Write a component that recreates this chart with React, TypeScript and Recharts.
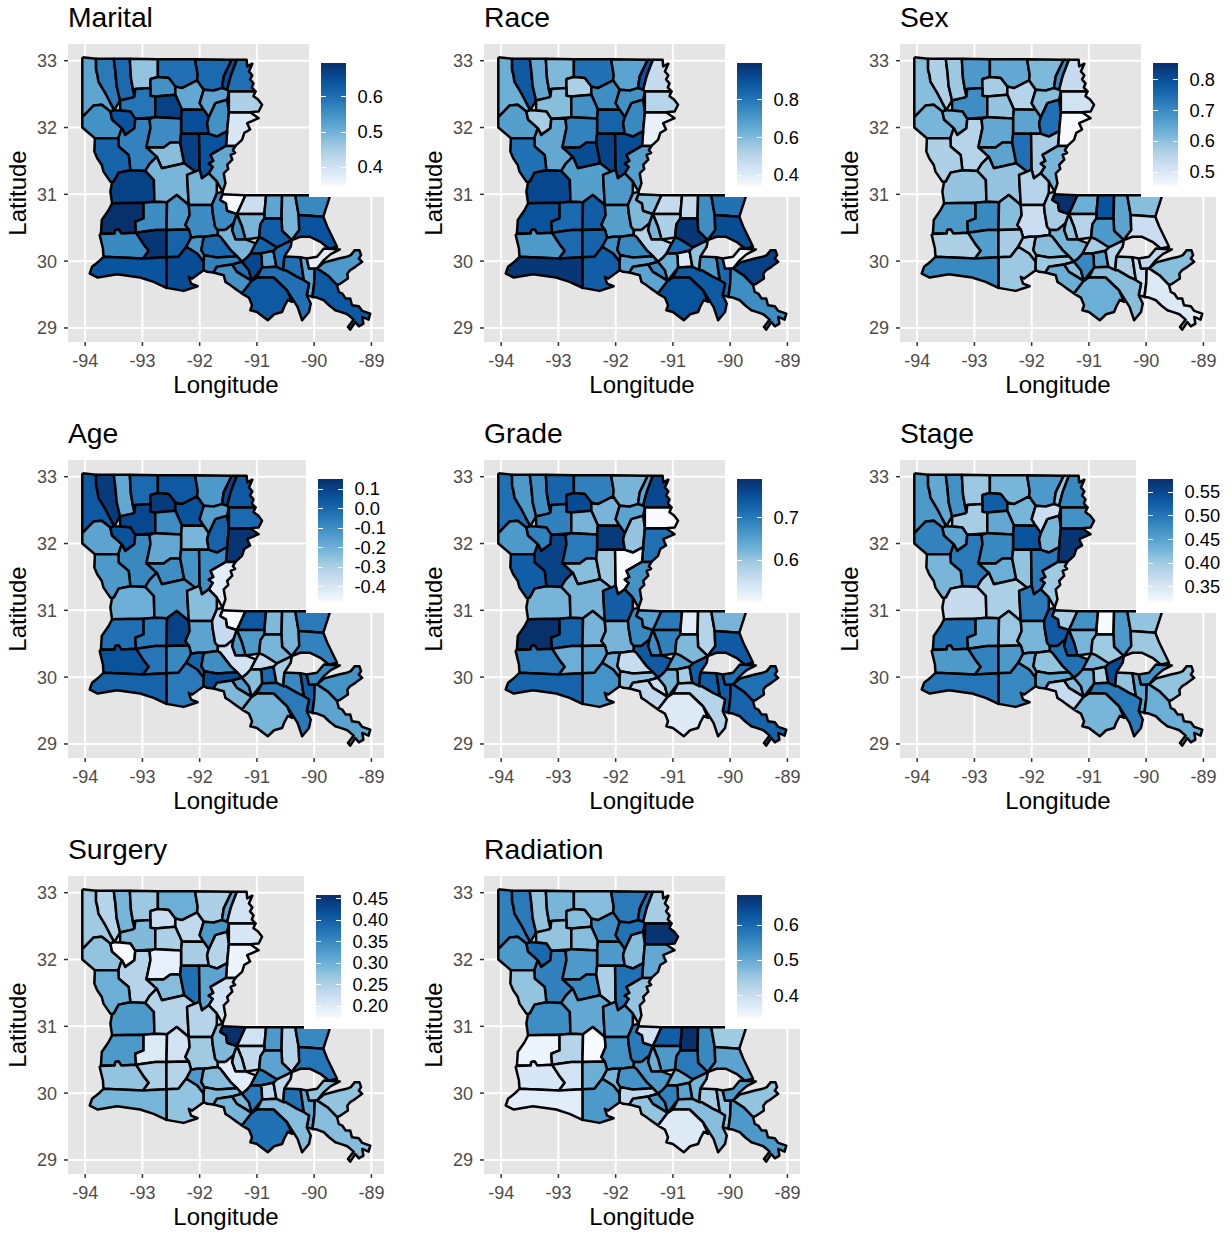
import { CartesianGrid, Scatter, ScatterChart, XAxis, YAxis } from "recharts";

const BLUES = ["#F7FBFF", "#DEEBF7", "#C6DBEF", "#9ECAE1", "#6BAED6", "#4292C6", "#2171B5", "#08519C", "#08306B"];
const GAMMA = 0.87;

const LON_TICKS = [-94, -93, -92, -91, -90, -89];
const LAT_TICKS = [29, 30, 31, 32, 33];

type Ring = number[][];

// parish outlines, lon/lat (St Martin has two pieces)
const parishNames = [
  "Caddo", "Bossier", "Webster", "Claiborne", "Union", "Morehouse", "West Carroll", "East Carroll", "Lincoln", "Ouachita",
  "Richland", "Madison", "Bienville", "Jackson", "Caldwell", "Franklin", "Tensas", "De Soto", "Red River", "Natchitoches",
  "Winn", "Grant", "La Salle", "Catahoula", "Concordia", "Sabine", "Vernon", "Rapides", "Avoyelles", "Beauregard",
  "Allen", "Evangeline", "St Landry", "Pointe Coupee", "West Feliciana", "East Feliciana", "St Helena", "Tangipahoa", "Washington", "St Tammany",
  "East Baton Rouge", "West Baton Rouge", "Livingston", "Iberville", "Ascension", "St James", "St John", "St Charles", "Jefferson", "Orleans",
  "St Bernard", "Plaquemines", "Calcasieu", "Jeff Davis", "Acadia", "Lafayette", "Vermilion", "Cameron", "St Martin", "Iberia",
  "St Martin lower", "St Mary", "Assumption", "Lafourche", "Terrebonne",
];

const parishRings: Ring[] = [
  [[-94.05,33.05],[-93.81,33.03],[-93.81,32.87],[-93.78,32.77],[-93.77,32.69],[-93.65,32.52],[-93.56,32.37],[-93.49,32.26],[-93.56,32.24],[-93.71,32.34],[-93.85,32.33],[-94.05,32.155]],
  [[-93.81,33.03],[-93.5,33.03],[-93.47,32.82],[-93.45,32.62],[-93.39,32.405],[-93.49,32.26],[-93.56,32.37],[-93.65,32.52],[-93.77,32.69],[-93.78,32.77],[-93.81,32.87]],
  [[-93.5,33.03],[-93.22,33.03],[-93.2,32.74],[-93.165,32.565],[-93.14,32.455],[-93.39,32.405],[-93.45,32.62],[-93.47,32.82]],
  [[-93.22,33.03],[-92.73,33.02],[-92.73,32.755],[-92.86,32.725],[-92.86,32.59],[-93.125,32.575],[-93.165,32.565],[-93.2,32.74]],
  [[-92.73,33.02],[-92.08,33.02],[-92.035,32.79],[-92.045,32.705],[-92.31,32.59],[-92.425,32.615],[-92.54,32.74],[-92.73,32.755]],
  [[-92.08,33.02],[-91.44,33.015],[-91.58,32.765],[-91.61,32.59],[-91.755,32.555],[-91.93,32.565],[-92.045,32.705],[-92.035,32.79]],
  [[-91.44,33.015],[-91.35,33.015],[-91.46,32.765],[-91.52,32.565],[-91.61,32.59],[-91.58,32.765]],
  [[-91.35,33.015],[-91.18,33.015],[-91.17,32.915],[-91.08,32.955],[-91.14,32.84],[-91.08,32.78],[-91.12,32.72],[-91.06,32.66],[-91.09,32.6],[-91.025,32.54],[-91.49,32.54],[-91.52,32.565],[-91.46,32.765]],
  [[-92.86,32.725],[-92.73,32.755],[-92.54,32.74],[-92.425,32.615],[-92.425,32.49],[-92.775,32.465],[-92.86,32.475],[-92.86,32.59]],
  [[-92.425,32.615],[-92.31,32.59],[-92.045,32.705],[-91.93,32.565],[-92.0,32.365],[-91.93,32.265],[-92.31,32.27],[-92.425,32.49]],
  [[-91.93,32.565],[-91.755,32.555],[-91.61,32.59],[-91.52,32.565],[-91.49,32.54],[-91.52,32.415],[-91.725,32.365],[-91.84,32.155],[-91.93,32.265],[-92.0,32.365]],
  [[-91.49,32.54],[-91.025,32.54],[-91.06,32.47],[-90.98,32.42],[-90.91,32.34],[-90.97,32.24],[-91.12,32.23],[-91.49,32.225]],
  [[-93.14,32.455],[-93.125,32.575],[-92.86,32.59],[-92.86,32.475],[-92.775,32.465],[-92.775,32.155],[-93.125,32.13],[-93.21,32.24],[-93.39,32.255],[-93.39,32.405]],
  [[-92.775,32.465],[-92.425,32.49],[-92.31,32.27],[-92.325,32.135],[-92.775,32.155]],
  [[-92.31,32.27],[-91.93,32.265],[-91.84,32.155],[-91.87,32.065],[-91.84,31.905],[-92.01,31.905],[-92.325,31.905],[-92.325,32.135]],
  [[-91.725,32.365],[-91.52,32.415],[-91.49,32.225],[-91.52,31.945],[-91.7,31.865],[-91.84,31.905],[-91.87,32.065],[-91.84,32.155]],
  [[-91.49,32.225],[-91.12,32.23],[-90.97,32.14],[-91.17,32.065],[-91.12,31.97],[-91.22,31.92],[-91.26,31.815],[-91.375,31.725],[-91.54,31.725],[-91.52,31.945]],
  [[-94.05,32.155],[-93.85,32.33],[-93.71,32.34],[-93.56,32.24],[-93.53,32.12],[-93.36,31.99],[-93.42,31.84],[-93.83,31.84],[-94.05,32.0]],
  [[-93.49,32.26],[-93.39,32.255],[-93.21,32.24],[-93.125,32.13],[-93.14,31.99],[-93.3,31.89],[-93.36,31.99],[-93.53,32.12],[-93.56,32.24]],
  [[-93.36,31.99],[-93.3,31.89],[-93.14,31.99],[-93.125,32.13],[-92.875,32.13],[-92.86,31.99],[-92.93,31.705],[-92.75,31.565],[-92.875,31.455],[-92.95,31.35],[-93.21,31.36],[-93.24,31.59],[-93.415,31.715],[-93.42,31.84]],
  [[-92.875,32.13],[-92.775,32.155],[-92.325,32.135],[-92.325,31.905],[-92.34,31.775],[-92.51,31.775],[-92.63,31.7],[-92.93,31.705],[-92.86,31.99]],
  [[-92.93,31.705],[-92.63,31.7],[-92.51,31.775],[-92.34,31.775],[-92.27,31.465],[-92.66,31.39],[-92.75,31.565]],
  [[-92.325,31.905],[-92.01,31.905],[-92.0,31.365],[-92.08,31.34],[-92.27,31.465],[-92.34,31.775]],
  [[-92.01,31.905],[-91.84,31.905],[-91.7,31.865],[-91.52,31.945],[-91.54,31.725],[-91.81,31.59],[-91.76,31.5],[-91.84,31.46],[-91.77,31.41],[-91.84,31.315],[-91.96,31.24],[-92.0,31.365]],
  [[-91.54,31.725],[-91.375,31.725],[-91.42,31.66],[-91.38,31.62],[-91.46,31.59],[-91.43,31.52],[-91.52,31.44],[-91.5,31.38],[-91.58,31.315],[-91.55,31.165],[-91.6,31.04],[-91.7,31.19],[-91.84,31.315],[-91.77,31.41],[-91.84,31.46],[-91.76,31.5],[-91.81,31.59]],
  [[-93.83,31.84],[-93.42,31.84],[-93.415,31.715],[-93.24,31.59],[-93.21,31.36],[-93.415,31.325],[-93.5,31.19],[-93.56,31.19],[-93.68,31.34],[-93.71,31.44],[-93.79,31.54],[-93.84,31.64]],
  [[-93.53,31.19],[-93.5,31.19],[-93.415,31.325],[-93.21,31.36],[-92.95,31.35],[-92.8,31.215],[-92.79,30.89],[-92.98,30.875],[-93.53,30.865],[-93.56,31.04]],
  [[-92.95,31.35],[-92.875,31.455],[-92.75,31.565],[-92.66,31.39],[-92.27,31.465],[-92.08,31.34],[-92.22,31.29],[-92.19,30.84],[-92.4,30.99],[-92.57,30.88],[-92.79,30.89],[-92.8,31.215]],
  [[-92.22,31.29],[-92.08,31.34],[-92.0,31.365],[-91.96,31.24],[-91.84,31.315],[-91.7,31.19],[-91.7,31.015],[-91.785,30.84],[-92.19,30.84]],
  [[-93.53,30.865],[-92.98,30.875],[-92.98,30.64],[-93.125,30.59],[-93.11,30.425],[-93.37,30.415],[-93.415,30.475],[-93.475,30.465],[-93.485,30.415],[-93.725,30.415],[-93.71,30.615],[-93.59,30.765]],
  [[-92.98,30.875],[-92.79,30.89],[-92.57,30.88],[-92.58,30.465],[-92.775,30.465],[-93.11,30.425],[-93.125,30.59],[-92.98,30.64]],
  [[-92.57,30.88],[-92.4,30.99],[-92.19,30.84],[-92.175,30.69],[-92.25,30.54],[-92.19,30.475],[-92.58,30.465]],
  [[-92.19,30.84],[-91.785,30.84],[-91.77,30.715],[-91.73,30.515],[-91.68,30.465],[-91.685,30.39],[-91.92,30.365],[-92.045,30.365],[-92.15,30.35],[-92.19,30.475],[-92.25,30.54],[-92.175,30.69]],
  [[-91.785,30.84],[-91.7,31.015],[-91.6,31.04],[-91.6,31.0],[-91.64,30.915],[-91.54,30.865],[-91.52,30.755],[-91.35,30.705],[-91.41,30.565],[-91.55,30.465],[-91.68,30.465],[-91.73,30.515],[-91.77,30.715]],
  [[-91.6,31.0],[-91.2,30.985],[-91.29,30.815],[-91.35,30.705],[-91.52,30.755],[-91.54,30.865],[-91.64,30.915]],
  [[-91.2,30.985],[-90.84,30.985],[-90.87,30.705],[-91.35,30.705],[-91.29,30.815]],
  [[-90.84,30.985],[-90.56,30.985],[-90.57,30.64],[-90.87,30.64],[-90.87,30.705]],
  [[-90.56,30.985],[-90.33,30.985],[-90.27,30.69],[-90.26,30.465],[-90.39,30.315],[-90.56,30.455],[-90.57,30.64]],
  [[-90.33,30.985],[-89.72,30.985],[-89.84,30.665],[-90.27,30.69]],
  [[-90.27,30.69],[-89.84,30.665],[-89.77,30.515],[-89.6,30.215],[-89.745,30.19],[-89.89,30.29],[-90.07,30.365],[-90.24,30.365],[-90.39,30.315],[-90.26,30.465]],
  [[-91.35,30.705],[-90.87,30.705],[-90.87,30.64],[-90.94,30.55],[-90.96,30.355],[-91.2,30.325],[-91.26,30.515]],
  [[-91.35,30.705],[-91.26,30.515],[-91.2,30.325],[-91.375,30.325],[-91.435,30.465],[-91.41,30.565]],
  [[-90.87,30.64],[-90.57,30.64],[-90.56,30.455],[-90.39,30.315],[-90.65,30.205],[-90.87,30.325],[-90.96,30.355],[-90.94,30.55]],
  [[-91.55,30.465],[-91.41,30.565],[-91.435,30.465],[-91.375,30.325],[-91.2,30.325],[-91.02,30.265],[-91.11,30.115],[-91.17,30.055],[-91.26,29.99],[-91.35,30.075],[-91.46,30.165],[-91.64,30.365],[-91.685,30.39],[-91.68,30.465]],
  [[-91.02,30.265],[-90.96,30.355],[-90.87,30.325],[-90.65,30.205],[-90.71,30.155],[-90.94,30.115],[-91.11,30.115]],
  [[-90.94,30.115],[-90.71,30.155],[-90.66,29.915],[-90.91,29.905],[-90.92,30.075]],
  [[-90.71,30.155],[-90.65,30.205],[-90.39,30.315],[-90.41,30.215],[-90.52,30.07],[-90.54,29.865],[-90.66,29.915]],
  [[-90.52,30.07],[-90.24,30.06],[-90.18,29.715],[-90.3,29.765],[-90.5,29.865],[-90.54,29.865]],
  [[-90.24,30.06],[-90.13,30.04],[-90.09,29.89],[-89.99,29.89],[-90.0,29.665],[-90.03,29.465],[-90.13,29.49],[-90.09,29.665],[-90.18,29.715]],
  [[-90.13,30.04],[-89.95,30.065],[-89.83,30.19],[-89.55,30.175],[-89.71,30.105],[-89.83,30.015],[-89.95,29.89],[-90.09,29.89]],
  [[-89.95,29.89],[-89.83,29.98],[-89.57,30.04],[-89.43,30.065],[-89.36,30.09],[-89.29,30.165],[-89.21,30.165],[-89.18,30.09],[-89.22,30.04],[-89.16,29.99],[-89.28,29.915],[-89.37,29.865],[-89.42,29.815],[-89.41,29.74],[-89.54,29.665],[-89.6,29.64],[-89.77,29.79],[-89.86,29.84]],
  [[-89.99,29.89],[-89.95,29.89],[-89.86,29.84],[-89.77,29.79],[-89.6,29.64],[-89.57,29.54],[-89.51,29.515],[-89.45,29.44],[-89.37,29.44],[-89.34,29.34],[-89.22,29.325],[-89.16,29.255],[-89.02,29.215],[-89.05,29.125],[-89.16,29.165],[-89.14,29.065],[-89.22,29.025],[-89.28,29.09],[-89.37,28.975],[-89.41,29.015],[-89.31,29.125],[-89.42,29.205],[-89.54,29.24],[-89.63,29.265],[-89.74,29.34],[-89.83,29.415],[-89.95,29.455],[-90.03,29.465],[-90.0,29.665]],
  [[-93.75,30.405],[-93.485,30.415],[-93.475,30.465],[-93.415,30.475],[-93.37,30.415],[-93.11,30.425],[-92.98,30.255],[-92.89,30.155],[-92.99,30.04],[-93.68,30.065],[-93.69,30.19]],
  [[-93.11,30.425],[-92.775,30.465],[-92.58,30.465],[-92.58,30.06],[-92.99,30.04],[-92.89,30.155],[-92.98,30.255]],
  [[-92.58,30.465],[-92.19,30.475],[-92.15,30.35],[-92.235,30.215],[-92.37,30.065],[-92.58,30.06]],
  [[-92.15,30.35],[-92.045,30.365],[-91.92,30.365],[-91.94,30.315],[-91.97,30.165],[-91.92,30.09],[-91.93,29.99],[-92.045,30.115],[-92.235,30.215]],
  [[-92.58,30.06],[-92.37,30.065],[-92.235,30.215],[-92.045,30.115],[-91.93,29.99],[-91.93,29.865],[-92.13,29.74],[-92.19,29.765],[-92.15,29.665],[-92.035,29.625],[-92.28,29.555],[-92.58,29.6]],
  [[-93.68,30.065],[-92.99,30.04],[-92.58,30.06],[-92.58,29.6],[-92.805,29.69],[-93.04,29.755],[-93.445,29.805],[-93.78,29.755],[-93.92,29.815],[-93.88,29.915],[-93.77,29.99]],
  [[-91.92,30.365],[-91.685,30.39],[-91.64,30.365],[-91.46,30.165],[-91.35,30.075],[-91.7,30.055],[-91.92,30.09],[-91.97,30.165],[-91.94,30.315]],
  [[-91.92,30.09],[-91.7,30.055],[-91.35,30.075],[-91.26,29.99],[-91.435,29.95],[-91.7,29.915],[-91.76,29.83],[-91.87,29.84],[-91.93,29.865],[-91.93,29.99]],
  [[-91.435,29.95],[-91.26,29.99],[-91.14,29.865],[-91.09,29.705],[-91.35,29.84]],
  [[-91.7,29.915],[-91.435,29.95],[-91.35,29.84],[-91.09,29.705],[-91.26,29.515],[-91.4,29.6],[-91.46,29.64],[-91.55,29.69],[-91.58,29.79],[-91.76,29.83]],
  [[-91.17,30.055],[-91.11,30.115],[-90.94,30.115],[-90.92,30.075],[-90.91,29.905],[-91.09,29.705],[-91.14,29.865],[-91.26,29.99]],
  [[-91.0,29.755],[-90.91,29.905],[-90.66,29.915],[-90.54,29.865],[-90.5,29.865],[-90.3,29.765],[-90.18,29.715],[-90.09,29.665],[-90.13,29.49],[-90.06,29.365],[-90.09,29.24],[-90.21,29.115],[-90.29,29.315],[-90.475,29.565],[-90.71,29.755]],
  [[-91.26,29.515],[-91.09,29.705],[-91.0,29.755],[-90.71,29.755],[-90.475,29.565],[-90.385,29.39],[-90.46,29.42],[-90.52,29.325],[-90.56,29.24],[-90.7,29.205],[-90.81,29.115],[-91.0,29.24],[-91.115,29.265],[-91.085,29.34],[-91.14,29.455]],
];

// values per parish, same order as parishNames
const marital = [.52,.585,.61,.469,.599,.609,.651,.599,.55,.514,.52,.444,.592,.669,.651,.55,.388,.55,.644,.574,.557,.479,.672,.644,.514,.62,.669,.493,.493,.697,.557,.539,.557,.557,.346,.409,.52,.493,.564,.644,.493,.55,.627,.493,.62,.52,.599,.599,.52,.374,.539,.634,.564,.686,.62,.539,.655,.644,.609,.574,.599,.55,.662,.599,.634];
const race = [.637,.878,.656,.604,.813,.67,.898,.474,.526,.735,.722,.506,.591,.722,.852,.748,.376,.683,.539,.656,.767,.918,.944,.918,.683,.813,.931,.683,.702,.898,.833,.865,.683,.604,.591,.474,.474,.735,.813,.918,.526,.617,.976,.506,.833,.408,.572,.702,.833,.356,.944,.735,.702,.833,.852,.735,.865,.976,.748,.67,.748,.67,.637,.878,.898];
const sex = [.607,.567,.587,.675,.647,.615,.703,.536,.575,.556,.607,.516,.695,.595,.655,.743,.456,.623,.623,.556,.647,.655,.743,.575,.623,.567,.595,.595,.556,.675,.703,.607,.528,.575,.854,.635,.794,.655,.607,.528,.556,.595,.675,.623,.575,.655,.556,.567,.528,.544,.607,.496,.567,.663,.575,.556,.587,.703,.607,.587,.607,.635,.703,.607,.635];
const age = [.039,.121,-.176,-.006,.039,-.132,.089,.039,.121,.058,-.15,-.006,.089,-.1,-.213,.013,.139,-.163,.058,-.087,-.176,-.1,-.113,-.1,-.428,-.132,-.195,-.132,-.239,-.024,-.05,.102,-.163,-.352,-.478,.039,-.226,-.213,-.05,-.069,-.132,-.132,-.213,-.384,-.352,-.006,-.289,-.087,.026,-.087,-.113,-.163,.058,-.037,-.087,.013,-.05,.013,-.1,.076,-.132,-.226,-.239,-.05,-.213];
const grade = [.71,.661,.675,.727,.69,.624,.647,.761,.756,.624,.647,.503,.69,.624,.776,.603,.71,.661,.69,.767,.698,.612,.595,.503,.669,.733,.624,.624,.733,.79,.727,.624,.624,.681,.652,.698,.526,.575,.624,.738,.69,.675,.618,.738,.652,.589,.733,.733,.738,.71,.71,.727,.698,.632,.647,.632,.669,.727,.56,.603,.555,.566,.624,.575,.532];
const stage = [.461,.443,.469,.404,.427,.461,.409,.479,.526,.427,.365,.469,.396,.443,.539,.427,.573,.487,.448,.495,.479,.435,.409,.495,.401,.427,.37,.391,.495,.505,.443,.404,.427,.531,.396,.469,.318,.461,.409,.404,.427,.531,.401,.505,.427,.391,.547,.409,.448,.469,.409,.435,.461,.487,.461,.435,.479,.5,.409,.443,.417,.37,.435,.495,.427];
const surgery = [.265,.245,.293,.267,.302,.253,.316,.216,.224,.236,.33,.207,.287,.253,.259,.245,.182,.273,.173,.245,.19,.282,.379,.316,.216,.302,.33,.245,.245,.33,.202,.216,.265,.287,.459,.216,.33,.245,.35,.373,.236,.245,.316,.196,.367,.236,.236,.379,.316,.273,.273,.282,.273,.253,.245,.33,.273,.293,.282,.287,.293,.293,.367,.282,.379];
const radiation = [.564,.574,.459,.483,.469,.574,.588,.441,.469,.546,.588,.679,.459,.469,.529,.469,.504,.529,.599,.564,.529,.553,.434,.588,.459,.459,.546,.504,.518,.347,.424,.336,.539,.574,.389,.616,.686,.553,.448,.511,.529,.494,.574,.529,.483,.511,.483,.441,.459,.529,.459,.529,.378,.389,.494,.483,.529,.364,.539,.413,.539,.459,.564,.469,.371];

const panelTitles = ["Marital", "Race", "Sex", "Age", "Grade", "Stage", "Surgery", "Radiation"];
const panelValues = [marital, race, sex, age, grade, stage, surgery, radiation];
const panelRanges = [[.346,.697],[.343,.996],[.456,.854],[-.478,.152],[.503,.79],[.318,.578],[.173,.459],[.336,.686]];
const legendTicks = [
  ["0.4","0.5","0.6"],
  ["0.4","0.6","0.8"],
  ["0.5","0.6","0.7","0.8"],
  ["-0.4","-0.3","-0.2","-0.1","0.0","0.1"],
  ["0.6","0.7"],
  ["0.35","0.40","0.45","0.50","0.55"],
  ["0.20","0.25","0.30","0.35","0.40","0.45"],
  ["0.4","0.5","0.6"],
];
const legendLefts = [321, 321, 321, 318, 321, 316, 316, 321];

const hex = (c: string) => [1, 3, 5].map((i) => parseInt(c.slice(i, i + 2), 16));

function rampColor(share: number) {
  const t = Math.pow(Math.max(0, Math.min(1, share)), GAMMA) * (BLUES.length - 1);
  const i = Math.min(Math.floor(t), BLUES.length - 2);
  const a = hex(BLUES[i]);
  const b = hex(BLUES[i + 1]);
  const mix = a.map((v, k) => Math.round(v + (b[k] - v) * (t - i)));
  return `rgb(${mix.join(",")})`;
}

const colorFor = (value: number, [lo, hi]: number[]) => rampColor((value - lo) / (hi - lo));
const gradientStops = Array.from({ length: 17 }, (_, i) => rampColor(i / 16)).join(",");

const rings = parishRings.map((r) => [...r, r[0]].map(([lon, lat]) => ({ lon, lat })));
const noDot = () => <g />;

function ColourBar({ index }: { index: number }) {
  const [lo, hi] = panelRanges[index];
  const left = legendLefts[index];
  const top = 63;
  const barH = 123;
  return (
    <div style={{ position: "absolute", left: left - 12, top: 44, width: 385 - left + 12, height: 153, background: "#fff" }}>
      <div
        style={{
          position: "absolute",
          left: 12,
          top: top - 44,
          width: 25,
          height: barH,
          background: `linear-gradient(to top, ${gradientStops})`,
        }}
      />
      {legendTicks[index].map((t) => {
        const y = top - 44 + ((hi - Number(t)) / (hi - lo)) * barH;
        return (
          <div key={t}>
            <div style={{ position: "absolute", left: 12, top: y - 0.5, width: 5, height: 1, background: "#fff" }} />
            <div style={{ position: "absolute", left: 32, top: y - 0.5, width: 5, height: 1, background: "#fff" }} />
            <div style={{ position: "absolute", left: 48.5, top: y - 11, lineHeight: "22px", fontSize: 18.3, color: "#000", whiteSpace: "nowrap" }}>
              {t}
            </div>
          </div>
        );
      })}
    </div>
  );
}

function MapPanel({ index }: { index: number }) {
  const values = panelValues[index];
  const range = panelRanges[index];
  return (
    <div
      style={{
        position: "absolute",
        left: (index % 3) * 416,
        top: Math.floor(index / 3) * 416,
        width: 416,
        height: 416,
      }}
    >
      <ScatterChart width={416} height={416} margin={{ left: 28, right: 32, top: 44, bottom: 44 }}>
        <CartesianGrid fill="#E5E5E5" stroke="#fff" strokeWidth={2} syncWithTicks />
        <XAxis
          type="number"
          dataKey="lon"
          domain={[-94.3, -88.78]}
          ticks={LON_TICKS}
          interval={0}
          height={30}
          allowDataOverflow
          axisLine={false}
          tickSize={4}
          tickMargin={8}
          tickLine={{ stroke: "#333", strokeWidth: 1.5 }}
          tick={{ fill: "#4D4D4D", fontSize: 18 }}
          label={{ value: "Longitude", position: "insideBottom", offset: -21, fill: "#000", fontSize: 24 }}
        />
        <YAxis
          type="number"
          dataKey="lat"
          domain={[28.79, 33.25]}
          ticks={LAT_TICKS}
          interval={0}
          width={40}
          allowDataOverflow
          axisLine={false}
          tickSize={4}
          tickMargin={7}
          tickLine={{ stroke: "#333", strokeWidth: 1.5 }}
          tick={{ fill: "#4D4D4D", fontSize: 18 }}
          label={{ value: "Latitude", angle: -90, position: "insideLeft", offset: -11, fill: "#000", fontSize: 24, style: { textAnchor: "middle" } }}
        />
        {rings.map((ring, i) => (
          <Scatter
            key={parishNames[i]}
            name={parishNames[i]}
            data={ring}
            isAnimationActive={false}
            shape={noDot}
            line={{ fill: colorFor(values[i], range), stroke: "#000", strokeWidth: 2.5, strokeLinejoin: "round" }}
          />
        ))}
      </ScatterChart>
      <div style={{ position: "absolute", left: 68, top: 1, fontSize: 28.3, lineHeight: "32px", color: "#000" }}>{panelTitles[index]}</div>
      <ColourBar index={index} />
    </div>
  );
}

export default function App() {
  return (
    <div style={{ position: "absolute", left: 0, top: 0, width: 1231, height: 1234, background: "#fff", fontFamily: "'Liberation Sans', sans-serif" }}>
      {panelTitles.map((t, i) => (
        <MapPanel key={t} index={i} />
      ))}
    </div>
  );
}
